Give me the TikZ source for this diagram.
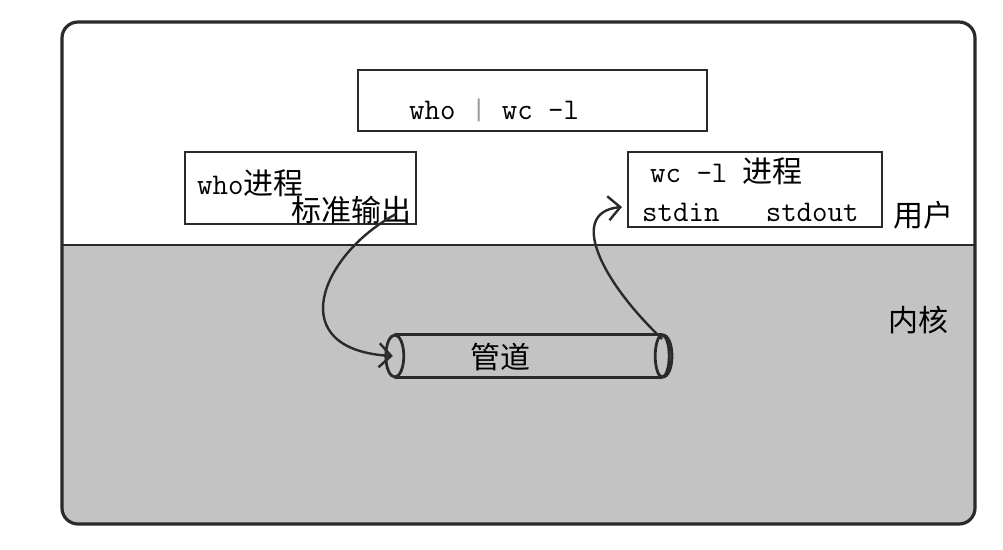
\documentclass[tikz,border=0pt]{standalone}
\usepackage{fontspec}
\newfontfamily\cjk{Noto Sans CJK SC}
\usepackage{tikz}
\usetikzlibrary{arrows.meta}

\definecolor{kernelgray}{HTML}{C3C3C3}
\definecolor{inkline}{HTML}{2A2A2A}

\begin{document}
\begin{tikzpicture}[x=1pt,y=-1pt,
  sketch/.style={draw=inkline,line width=2.8pt},
  procbox/.style={sketch,fill=white,inner sep=0pt},
  lbl/.style={anchor=west,inner sep=0pt,font=\fontsize{30}{32}\selectfont\ttfamily},
  flow/.style={draw=inkline,line width=2.4pt,-{Straight Barb[length=12pt,width=24pt,line width=2.4pt]}}]

\useasboundingbox (0,0) rectangle (1003,549);

% user / kernel areas
\begin{scope}
\clip[rounded corners=16pt] (62,22) rectangle (975,524);
\fill[kernelgray] (62,245) rectangle (975,524);
\end{scope}
\draw[sketch] (62,245) -- (975,245);
\draw[sketch,line width=3.2pt,rounded corners=16pt] (62,22) rectangle (975,524);

% processes
\node[procbox,minimum width=349pt,minimum height=61pt] (cmd) at (532.5,100.5) {};
\node[lbl] (cmdtxt) at (409,110) {who {\color{black!40}|} wc -l};

\node[procbox,minimum width=231pt,minimum height=72pt] (who) at (300.5,188) {};
\node[lbl] (whotxt) at (197,183) {who{\cjk 进程}};
\node[lbl] (whoout) at (291,210) {\cjk 标准输出};

\node[procbox,minimum width=254pt,minimum height=75pt] (wc) at (755,189.5) {};
\node[lbl] (wctxt) at (650,171) {wc -l {\cjk 进程}};
\node[lbl] (wcio) at (642,212) {stdin\ \ \ stdout};

\node[lbl] (user) at (893,215) {\cjk 用户};
\node[lbl] (kernel) at (888,320) {\cjk 内核};

% pipe
\node[minimum width=267pt,minimum height=42pt] (pipe) at (528.5,356) {};
\fill[kernelgray] (pipe.north west) rectangle (pipe.south east);
\draw[sketch] (pipe.north west) -- (pipe.north east);
\draw[sketch] (pipe.south west) -- (pipe.south east);
\draw[sketch] (pipe.west) ellipse [x radius=9pt,y radius=21pt];
\draw[sketch] (pipe.east) ellipse [x radius=7pt,y radius=21pt];
\draw[sketch] (pipe.north east) .. controls +(13,0) and +(13,0) .. (pipe.south east);
\node[lbl,anchor=center] (pipetxt) at (500,357) {\cjk 管道};

% connectors
\coordinate (outA) at (396,214);
\coordinate (inB) at (622,207);
\draw[flow] (outA) .. controls (320,255) and (282,350) .. ([xshift=-2pt]pipe.west);
\draw[flow] ([yshift=17pt]pipe.east) .. controls (600,280) and (568,212) .. (inB);

\end{tikzpicture}
\end{document}
